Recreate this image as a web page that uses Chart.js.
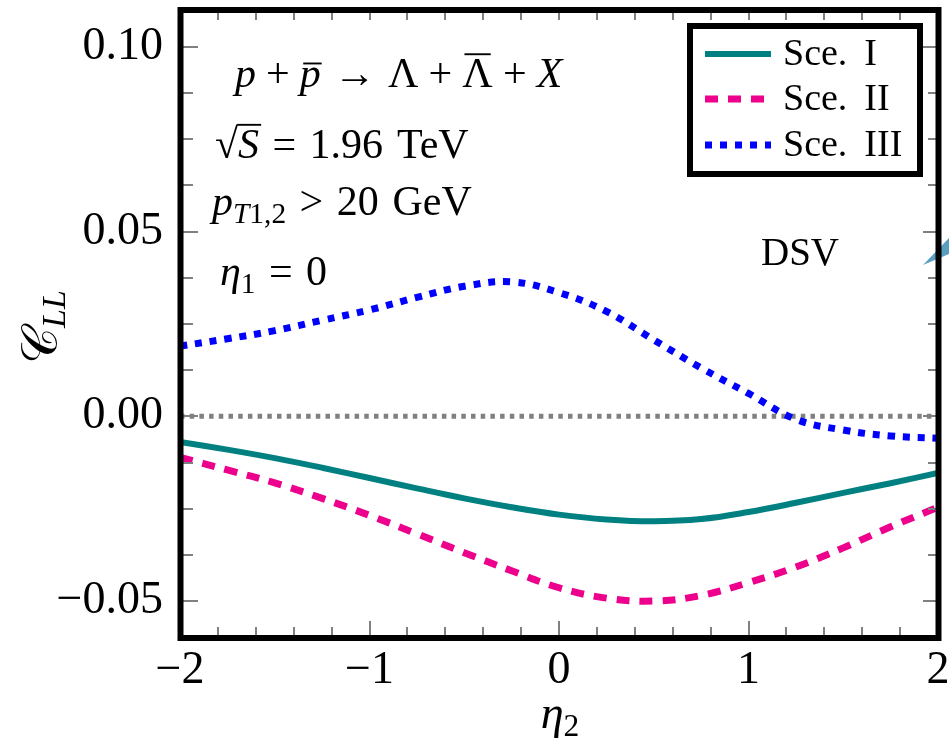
<!DOCTYPE html>
<html><head><meta charset="utf-8">
<script src="https://cdn.jsdelivr.net/npm/chart.js@4"></script>
<style>html,body{margin:0;padding:0;background:#fff;overflow:hidden}#wrap{width:949px;height:745px;position:relative}</style>
</head><body><div id="wrap"><canvas id="c" width="949" height="745"></canvas></div>
<script>
// ---- data ----
const eta2   = [-2,-1.75,-1.5,-1.25,-1,-0.75,-0.5,-0.25,0,0.25,0.5,0.75,1,1.25,1.5,1.75,2];
const sceI   = [-0.0069,-0.0090,-0.0113,-0.0139,-0.0167,-0.0195,-0.0222,-0.0246,-0.0266,-0.0279,-0.0284,-0.0278,-0.0259,-0.0234,-0.0207,-0.0181,-0.0153];
const sceII  = [-0.0111,-0.0145,-0.0180,-0.0222,-0.0268,-0.0318,-0.0369,-0.0418,-0.0464,-0.0492,-0.0500,-0.0485,-0.0450,-0.0408,-0.0356,-0.0299,-0.0246];
const sceIII = [0.0190,0.0210,0.0232,0.0260,0.0288,0.0322,0.0352,0.0364,0.0335,0.0284,0.0207,0.0131,0.0062,-0.0008,-0.0037,-0.0053,-0.0059];
const zeroX  = [-2,2];
const zeroY  = [0,0];
const seriesLabels = ['Sce. I','Sce. II','Sce. III'];
const xTickValues = [-2,-1,0,1,2];
const xTickLabels = ['\u22122','\u22121','0','1','2'];
const yTickValues = [-0.05,0,0.05,0.10];
const yTickLabels = ['\u22120.05','0.00','0.05','0.10'];
const xRange = [-2,2];
const yRange = [-0.06,0.11];

const SERIF = '"Liberation Serif","DejaVu Serif",serif';
const pts = (xs, ys) => xs.map((x,i)=>({x:x,y:ys[i]}));

function drawRuns(ctx, x, y, runs, baseSize, align){
  let total = 0;
  const m = runs.map(r=>{
    const s = (r.s||1)*baseSize;
    ctx.font = (r.it?'italic ':'') + s + 'px ' + SERIF;
    const w = r.gap!==undefined ? r.gap*baseSize : ctx.measureText(r.t).width;
    total += w;
    return {w, s};
  });
  let cx = align==='center' ? x - total/2 : x;
  runs.forEach((r,i)=>{
    const {w,s} = m[i];
    if (r.gap===undefined){
      ctx.font = (r.it?'italic ':'') + s + 'px ' + SERIF;
      ctx.fillText(r.t, cx, y + (r.dy||0)*baseSize);
      if (r.over){
        ctx.save(); ctx.lineWidth = baseSize*0.045; ctx.strokeStyle = '#000';
        const oy = y - r.over*baseSize;
        ctx.beginPath(); ctx.moveTo(cx + (r.ox||0)*baseSize, oy); ctx.lineTo(cx + w + (r.ox2||0)*baseSize, oy); ctx.stroke();
        ctx.restore();
      }
    }
    cx += w;
  });
  return total;
}

const decor = {
  id:'decor',
  beforeDraw(chart){
    const ctx = chart.ctx;
    ctx.save();
    ctx.fillStyle = '#fff';
    ctx.fillRect(0,0,chart.width,chart.height);
    ctx.fillStyle = '#5b9fc0';
    ctx.beginPath(); ctx.moveTo(923,265); ctx.lineTo(949,238); ctx.lineTo(949,254); ctx.closePath(); ctx.fill();
    ctx.restore();
  },
  afterDatasetsDraw(chart){
    const ctx = chart.ctx, a = chart.chartArea;
    const xs = chart.scales.x, ys = chart.scales.y;
    ctx.save();
    ctx.strokeStyle = '#808080'; ctx.lineWidth = 2;
    ctx.beginPath();
    for (let i=0;i<=20;i++){
      const v = xRange[0] + i*0.2;
      const px = Math.round(xs.getPixelForValue(v));
      const major = i%5===0;
      ctx.moveTo(px, a.bottom); ctx.lineTo(px, a.bottom - (major?17:11));
      ctx.moveTo(px, a.top); ctx.lineTo(px, a.top + 10);
    }
    for (let i=-4;i<=8;i++){
      const v = i*0.0125;
      const py = Math.round(ys.getPixelForValue(v));
      const major = i%4===0;
      ctx.moveTo(a.left, py); ctx.lineTo(a.left + (major?18:13), py);
      ctx.moveTo(a.right, py); ctx.lineTo(a.right - (major?15:10), py);
    }
    ctx.stroke();
    ctx.strokeStyle = '#000'; ctx.lineWidth = 6;
    ctx.strokeRect(a.left+0.5, a.top, a.right-a.left, a.bottom-a.top);

    ctx.fillStyle = '#000'; ctx.textBaseline = 'alphabetic';
    const F = 42;
    drawRuns(ctx, 235, 87, [
      {t:'p',it:1},{gap:0.24},{t:'+'},{gap:0.24},{t:'p',it:1,over:0.56,ox:0.08,ox2:0.02},{gap:0.3},{t:'\u2192'},{gap:0.3},
      {t:'\u039B'},{gap:0.24},{t:'+'},{gap:0.24},{t:'\u039B',over:0.78,ox:0.05,ox2:-0.05},{gap:0.24},{t:'+'},{gap:0.24},{t:'X',it:1}
    ], F);
    drawRuns(ctx, 215, 158, [
      {t:'\u221A'},{t:'S',it:1,over:0.79,ox:-0.02,ox2:0.05},{gap:0.32},{t:'='},{gap:0.32},{t:'1.96'},{gap:0.33},{t:'TeV'}
    ], F);
    drawRuns(ctx, 212, 215, [
      {t:'p',it:1},{t:'T',it:1,s:0.7,dy:0.2},{t:'1,2',s:0.7,dy:0.2},{gap:0.32},{t:'>'},{gap:0.32},{t:'20'},{gap:0.33},{t:'GeV'}
    ], F);
    drawRuns(ctx, 220, 285, [
      {t:'\u03B7',it:1},{t:'1',s:0.7,dy:0.2},{gap:0.32},{t:'='},{gap:0.32},{t:'0'}
    ], F);
    ctx.font = '39px ' + SERIF;
    ctx.fillText('DSV', 761, 265);

    drawRuns(ctx, 560, 728, [{t:'\u03B7',it:1,s:1.1},{t:'2',s:0.75,dy:0.2}], 42, 'center');
    ctx.save();
    ctx.translate(57, 327); ctx.rotate(-Math.PI/2);
    drawRuns(ctx, 0, 0, [{t:'\uD835\uDC9E',s:1},{t:'LL',it:1,s:0.68,dy:0.16}], 50, 'center');
    ctx.restore();

    const L = {x1:690, y1:26, x2:920, y2:174};
    ctx.fillStyle = '#fff';
    ctx.fillRect(L.x1, L.y1, L.x2-L.x1, L.y2-L.y1);
    ctx.strokeStyle = '#000'; ctx.lineWidth = 6;
    ctx.strokeRect(L.x1, L.y1, L.x2-L.x1, L.y2-L.y1);
    const rows = [54, 99, 145];
    chart.data.datasets.slice(0,3).forEach((ds,i)=>{
      ctx.save();
      ctx.strokeStyle = ds.borderColor; ctx.lineWidth = ds.borderWidth;
      ctx.setLineDash(ds.borderDash||[]); ctx.lineCap = 'butt';
      ctx.beginPath(); ctx.moveTo(705, rows[i]); ctx.lineTo(771, rows[i]); ctx.stroke();
      ctx.restore();
      ctx.fillStyle = '#000';
      ctx.font = '38px ' + SERIF;
      ctx.textBaseline = 'alphabetic';
      const parts = ds.label.split(' ');
      ctx.fillText(parts[0], 783, rows[i]+11);
      ctx.fillText(parts[1], 783 + ctx.measureText(parts[0]).width + 17, rows[i]+11);
    });
    ctx.restore();
  }
};

const tickFont = {family: SERIF, size: 46};
new Chart(document.getElementById('c'), {
  type:'line',
  data:{datasets:[
    {label:seriesLabels[0], data:pts(eta2,sceI),   borderColor:'#008080', borderWidth:6, borderDash:[], tension:0.4, pointRadius:0},
    {label:seriesLabels[1], data:pts(eta2,sceII),  borderColor:'#EC008C', borderWidth:7, borderDash:[13,10], tension:0.4, pointRadius:0},
    {label:seriesLabels[2], data:pts(eta2,sceIII), borderColor:'#0000FF', borderWidth:7, borderDash:[7,8], tension:0.4, pointRadius:0},
    {label:'zero', data:pts(zeroX,zeroY), borderColor:'#808080', borderWidth:5, borderDash:[4.5,5.2], pointRadius:0}
  ]},
  options:{
    responsive:false, animation:false, devicePixelRatio:1,
    layout:{padding:{left:0,right:11,top:10,bottom:0}},
    plugins:{legend:{display:false}, tooltip:{enabled:false}},
    elements:{line:{borderCapStyle:'butt', borderJoinStyle:'round'}},
    scales:{
      x:{type:'linear', min:xRange[0], max:xRange[1],
        grid:{display:false, drawTicks:false}, border:{display:false},
        ticks:{font:tickFont, color:'#000', padding:5, maxRotation:0, autoSkip:false,
          callback:(v,i)=>xTickLabels[i]},
        afterBuildTicks:s=>{s.ticks = xTickValues.map(v=>({value:v}));},
        afterFit:s=>{s.height = 107; s.paddingLeft = 0; s.paddingRight = 0;}
      },
      y:{type:'linear', min:yRange[0], max:yRange[1],
        grid:{display:false, drawTicks:false}, border:{display:false},
        ticks:{font:tickFont, color:'#000', padding:17, autoSkip:false,
          callback:(v,i)=>yTickLabels[i]},
        afterBuildTicks:s=>{s.ticks = yTickValues.map(v=>({value:v}));},
        afterFit:s=>{s.width = 180; s.paddingTop = 0; s.paddingBottom = 0;}
      }
    }
  },
  plugins:[decor]
});
</script></body></html>
